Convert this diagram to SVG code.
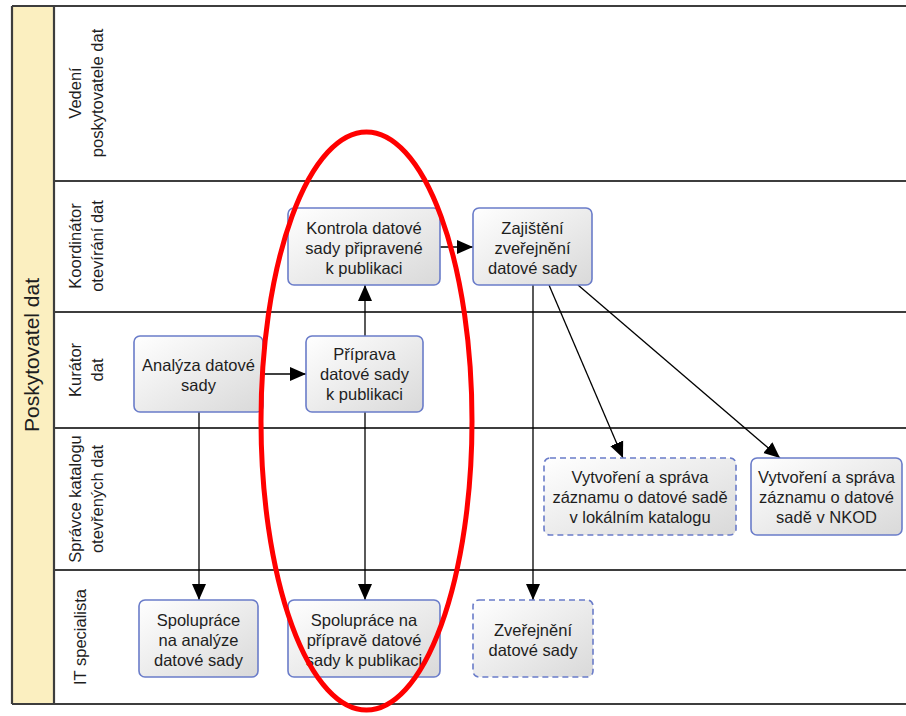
<svg xmlns="http://www.w3.org/2000/svg" width="906" height="716" viewBox="0 0 906 716">
<defs>
<linearGradient id="nodeFill" x1="0" y1="0" x2="1" y2="1">
<stop offset="0" stop-color="#ffffff"/>
<stop offset="1" stop-color="#d9d9d9"/>
</linearGradient>
<marker id="arrow" markerUnits="userSpaceOnUse" markerWidth="16" markerHeight="16" viewBox="0 0 16 14" refX="16" refY="7" orient="auto">
<path d="M0,0 L16,7 L0,14 Z" fill="#000"/>
</marker>
<style>
.lane{stroke:#3d3d3d;stroke-width:2.2;fill:none}
.node rect{fill:url(#nodeFill);stroke:#6a7cc9;stroke-width:1.6}
.node.dashed rect{stroke-dasharray:6 4}
.t{font-family:"Liberation Sans",Arial,sans-serif;font-size:16.5px;fill:#1e1e1e;text-anchor:middle}
.pool{font-family:"Liberation Sans",Arial,sans-serif;font-size:21px;fill:#1e1e1e;text-anchor:middle}
.conn line{stroke:#000;stroke-width:1.3;marker-end:url(#arrow)}
</style>
</defs>
<rect width="906" height="716" fill="#ffffff"/>
<g id="pool">
<rect x="12" y="6" width="42" height="698" fill="#fbefc0"/>
<line class="lane" x1="12" y1="6" x2="906" y2="6"/>
<line class="lane" x1="12" y1="704" x2="906" y2="704"/>
<line class="lane" x1="12" y1="6" x2="12" y2="704"/>
<line class="lane" x1="54" y1="6" x2="54" y2="704"/>
<text class="pool" transform="translate(38.5,355) rotate(-90)">Poskytovatel dat</text>
</g>
<g id="lanes">
<line class="lane" x1="54" y1="181" x2="906" y2="181"/>
<line class="lane" x1="54" y1="312" x2="906" y2="312"/>
<line class="lane" x1="54" y1="428" x2="906" y2="428"/>
<line class="lane" x1="54" y1="570" x2="906" y2="570"/>
<text class="t" transform="translate(81,93) rotate(-90)">Vedení</text>
<text class="t" transform="translate(103,93) rotate(-90)">poskytovatele dat</text>
<text class="t" transform="translate(81,246) rotate(-90)">Koordinátor</text>
<text class="t" transform="translate(103,246) rotate(-90)">otevírání dat</text>
<text class="t" transform="translate(81,370) rotate(-90)">Kurátor</text>
<text class="t" transform="translate(103,370) rotate(-90)">dat</text>
<text class="t" transform="translate(81,499) rotate(-90)">Správce katalogu</text>
<text class="t" transform="translate(103,499) rotate(-90)">otevřených dat</text>
<text class="t" transform="translate(86,637) rotate(-90)">IT specialista</text>
</g>
<g id="connectors" class="conn">
<line x1="263" y1="374" x2="306" y2="374"/>
<line x1="365" y1="336" x2="365" y2="285"/>
<line x1="440" y1="247" x2="473" y2="247"/>
<line x1="533" y1="285" x2="533" y2="600"/>
<line x1="549" y1="285" x2="623" y2="458"/>
<line x1="578" y1="285" x2="780" y2="458"/>
<line x1="199" y1="412" x2="199" y2="600"/>
<line x1="365" y1="412" x2="365" y2="600"/>
</g>
<g id="kontrola" class="node">
<rect x="288" y="208" width="152" height="77" rx="6"/>
<text class="t" x="364" y="234">Kontrola datové</text>
<text class="t" x="364" y="254">sady připravené</text>
<text class="t" x="364" y="274">k publikaci</text>
</g>
<g id="zajisteni" class="node">
<rect x="473" y="208" width="119" height="77" rx="6"/>
<text class="t" x="532.5" y="234">Zajištění</text>
<text class="t" x="532.5" y="254">zveřejnění</text>
<text class="t" x="532.5" y="274">datové sady</text>
</g>
<g id="analyza" class="node">
<rect x="134" y="336" width="129" height="76" rx="6"/>
<text class="t" x="198.5" y="371">Analýza datové</text>
<text class="t" x="198.5" y="391">sady</text>
</g>
<g id="priprava" class="node">
<rect x="306" y="336" width="117" height="76" rx="6"/>
<text class="t" x="364.5" y="360">Příprava</text>
<text class="t" x="364.5" y="380">datové sady</text>
<text class="t" x="364.5" y="400">k publikaci</text>
</g>
<g id="vytvoreni-lokalni" class="node dashed">
<rect x="544" y="458" width="192" height="77" rx="6"/>
<text class="t" x="640" y="483">Vytvoření a správa</text>
<text class="t" x="640" y="503">záznamu o datové sadě</text>
<text class="t" x="640" y="523">v lokálním katalogu</text>
</g>
<g id="vytvoreni-nkod" class="node">
<rect x="751" y="458" width="151" height="77" rx="6"/>
<text class="t" x="826.5" y="483">Vytvoření a správa</text>
<text class="t" x="826.5" y="503">záznamu o datové</text>
<text class="t" x="826.5" y="523">sadě v NKOD</text>
</g>
<g id="spoluprace-analyza" class="node">
<rect x="139" y="600" width="119" height="77" rx="6"/>
<text class="t" x="198.5" y="626">Spolupráce</text>
<text class="t" x="198.5" y="646">na analýze</text>
<text class="t" x="198.5" y="666">datové sady</text>
</g>
<g id="spoluprace-priprava" class="node">
<rect x="288" y="600" width="152" height="77" rx="6"/>
<text class="t" x="364" y="626">Spolupráce na</text>
<text class="t" x="364" y="646">přípravě datové</text>
<text class="t" x="364" y="666">sady k publikaci</text>
</g>
<g id="zverejneni" class="node dashed">
<rect x="473" y="600" width="120" height="77" rx="6"/>
<text class="t" x="533" y="636">Zveřejnění</text>
<text class="t" x="533" y="656">datové sady</text>
</g>
<g id="highlight">
<ellipse cx="366.5" cy="421" rx="105.5" ry="289" fill="none" stroke="#ff0000" stroke-width="5"/>
</g>
</svg>
